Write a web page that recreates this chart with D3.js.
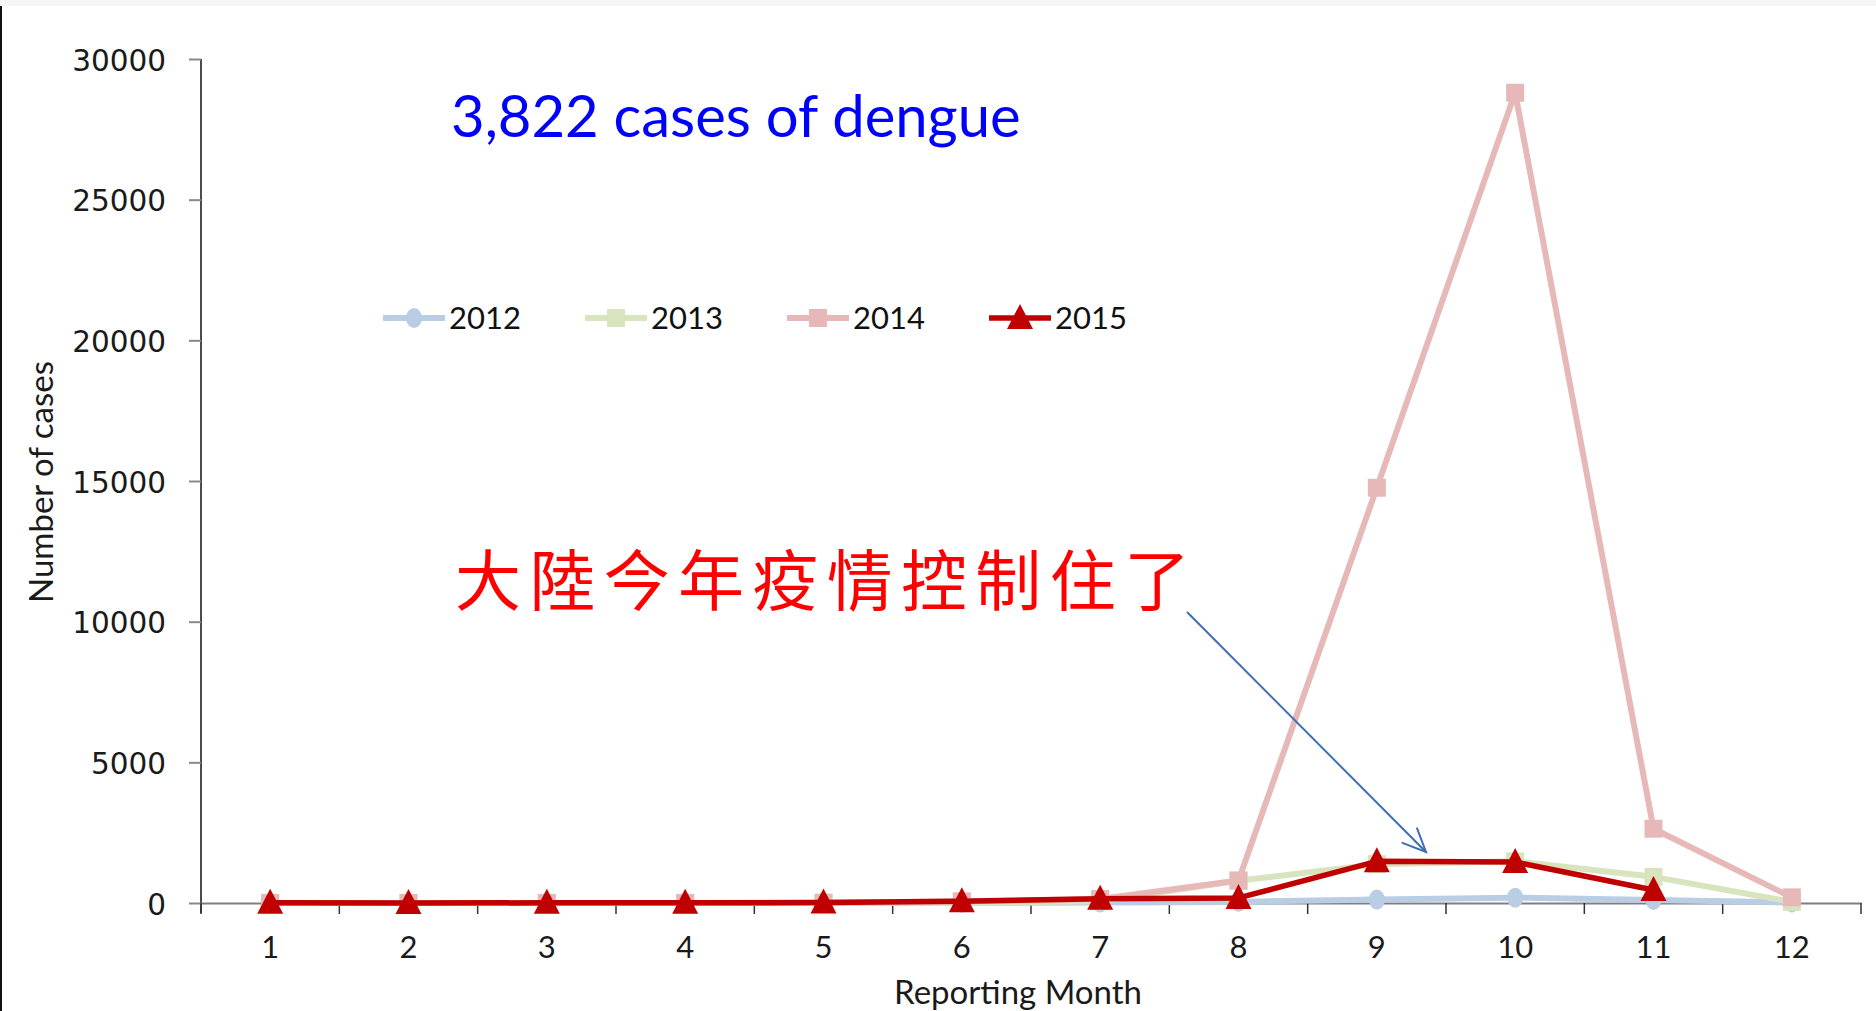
<!DOCTYPE html>
<html>
<head>
<meta charset="utf-8">
<script src="https://cdn.jsdelivr.net/npm/d3@7"></script>
<style>
  body { margin: 0; background: #fff; }
  svg { display: block; }
</style>
</head>
<body>
<div id="chart"></div>
<script>
// monthly dengue cases
const months = [1, 2, 3, 4, 5, 6, 7, 8, 9, 10, 11, 12];
const cases2012 = [0, 0, 0, 1, 2, 5, 20, 40, 120, 190, 110, 20];
const cases2013 = [0, 0, 0, 1, 3, 10, 60, 790, 1380, 1480, 930, 40];
const cases2014 = [1, 1, 2, 3, 12, 60, 140, 800, 14760, 28800, 2640, 200];
const cases2015 = [5, 3, 5, 8, 15, 60, 150, 180, 1480, 1456, 460, null];
const years = ["2012", "2013", "2014", "2015"];
const yTicks = [0, 5000, 10000, 15000, 20000, 25000, 30000];

const width = 1876, height = 1011;
const plotLeft = 201, plotRight = 1861, plotTop = 59, plotBottom = 903;

const svg = d3.select("#chart").append("svg")
  .attr("width", width)
  .attr("height", height);

// slide edge bits
svg.append("rect").attr("x", 0).attr("y", 0).attr("width", width).attr("height", 6).attr("fill", "#f6f6f6");
svg.append("rect").attr("x", 0).attr("y", 6).attr("width", 2).attr("height", height - 6).attr("fill", "#111");

const x = d3.scaleBand().domain(months).range([plotLeft, plotRight]).padding(0);
const cx = m => x(m) + x.bandwidth() / 2;
const y = d3.scaleLinear().domain([0, 30000]).range([plotBottom, plotTop]);

// y axis
const yAxis = svg.append("g")
  .attr("transform", `translate(${plotLeft},0)`)
  .call(d3.axisLeft(y).tickValues(yTicks).tickFormat(d3.format("d")).tickSize(12).tickPadding(23));
yAxis.select(".domain").attr("stroke", "#111").attr("stroke-width", 1.5)
  .attr("d", `M0,${plotTop}V${plotBottom + 10}`);
yAxis.selectAll(".tick line").attr("stroke", "#888").attr("stroke-width", 2);
yAxis.selectAll(".tick text")
  .attr("font-family", "'DejaVu Sans', Verdana, sans-serif")
  .attr("font-size", 29.5).attr("dy", "0.38em").attr("fill", "#1a1a1a");

// x axis
const xAxis = svg.append("g")
  .attr("transform", `translate(0,${plotBottom})`)
  .call(d3.axisBottom(x).tickSize(0).tickPadding(33));
xAxis.select(".domain").attr("stroke", "#7f7f7f").attr("stroke-width", 2);
xAxis.selectAll(".tick text")
  .attr("font-family", "Lato, 'Open Sans', sans-serif")
  .attr("font-size", 31).attr("fill", "#1a1a1a");
// tick marks between the months
xAxis.selectAll(".sep")
  .data(months.concat([null]))
  .enter().append("line")
  .attr("x1", (d, i) => i < months.length ? x(d) : plotRight)
  .attr("x2", (d, i) => i < months.length ? x(d) : plotRight)
  .attr("y1", 0).attr("y2", 11)
  .attr("stroke", "#333").attr("stroke-width", 1.5);

// axis titles
svg.append("text")
  .attr("x", 1018).attr("y", 1004)
  .attr("text-anchor", "middle")
  .attr("font-family", "Lato, 'Open Sans', sans-serif")
  .attr("font-size", 33).attr("fill", "#1a1a1a")
  .text("Reporting Month");
svg.append("text")
  .attr("transform", "translate(53,482) rotate(-90)")
  .attr("text-anchor", "middle")
  .attr("font-family", "Lato, 'Open Sans', sans-serif")
  .attr("font-size", 33).attr("fill", "#1a1a1a")
  .text("Number of cases");

// series
const series = [
  {name: years[0], values: cases2012, color: "#b9cde5", width: 6, marker: "circle"},
  {name: years[1], values: cases2013, color: "#d7e4bd", width: 6, marker: "square"},
  {name: years[2], values: cases2014, color: "#e6b9b8", width: 6, marker: "square"},
  {name: years[3], values: cases2015, color: "#c00000", width: 5.5, marker: "triangle"}
];

const line = d3.line()
  .defined(d => d.v !== null)
  .x(d => cx(d.m))
  .y(d => y(d.v));

function drawMarker(g, type, color) {
  if (type === "circle") {
    g.append("ellipse").attr("rx", 8).attr("ry", 10).attr("fill", color);
  } else if (type === "square") {
    g.append("rect").attr("x", -9).attr("y", -9).attr("width", 18).attr("height", 18).attr("fill", color);
  } else {
    g.append("path").attr("d", "M0,-14L13,11L-13,11Z").attr("fill", color);
  }
}

series.forEach(s => {
  const pts = months.map((m, i) => ({m: m, v: s.values[i]}));
  svg.append("path")
    .datum(pts)
    .attr("d", line)
    .attr("fill", "none")
    .attr("stroke", s.color)
    .attr("stroke-width", s.width)
    .attr("stroke-linejoin", "round");
  pts.filter(p => p.v !== null).forEach(p => {
    const g = svg.append("g").attr("transform", `translate(${cx(p.m)},${y(p.v)})`);
    drawMarker(g, s.marker, s.color);
  });
});

// legend
const legend = svg.append("g").attr("transform", "translate(383,318)");
series.forEach((s, i) => {
  const g = legend.append("g").attr("transform", `translate(${i * 202},0)`);
  g.append("line").attr("x1", 0).attr("x2", 62).attr("y1", 0).attr("y2", 0)
    .attr("stroke", s.color).attr("stroke-width", s.width);
  const mg = g.append("g").attr("transform", "translate(31,0)");
  drawMarker(mg, s.marker, s.color);
  g.append("text")
    .attr("x", 66).attr("y", 11)
    .attr("font-family", "Lato, 'Open Sans', sans-serif")
    .attr("font-size", 31).attr("fill", "#111")
    .text(s.name);
});

// annotations
svg.append("text")
  .attr("x", 451).attr("y", 137)
  .attr("font-family", "Lato, 'Open Sans', sans-serif")
  .attr("font-size", 58).attr("fill", "#0000ff")
  .text("3,822 cases of dengue");

svg.append("text")
  .attr("x", 455).attr("y", 605)
  .attr("textLength", 735)
  .attr("font-family", "'Noto Sans CJK TC', 'Noto Sans CJK SC', sans-serif")
  .attr("font-size", 66).attr("fill", "#ff0000")
  .text("大陸今年疫情控制住了");

// arrow pointing at the 2015 peak
const ax1 = 1187, ay1 = 612, ax2 = 1426, ay2 = 852;
const ang = Math.atan2(ay2 - ay1, ax2 - ax1);
const headLen = 26, spread = 0.42;
svg.append("line")
  .attr("x1", ax1).attr("y1", ay1).attr("x2", ax2).attr("y2", ay2)
  .attr("stroke", "#3d6fb5").attr("stroke-width", 2);
svg.append("path")
  .attr("d", `M${ax2 - headLen * Math.cos(ang - spread)},${ay2 - headLen * Math.sin(ang - spread)}L${ax2},${ay2}L${ax2 - headLen * Math.cos(ang + spread)},${ay2 - headLen * Math.sin(ang + spread)}`)
  .attr("fill", "none").attr("stroke", "#3d6fb5").attr("stroke-width", 2);
</script>
</body>
</html>
